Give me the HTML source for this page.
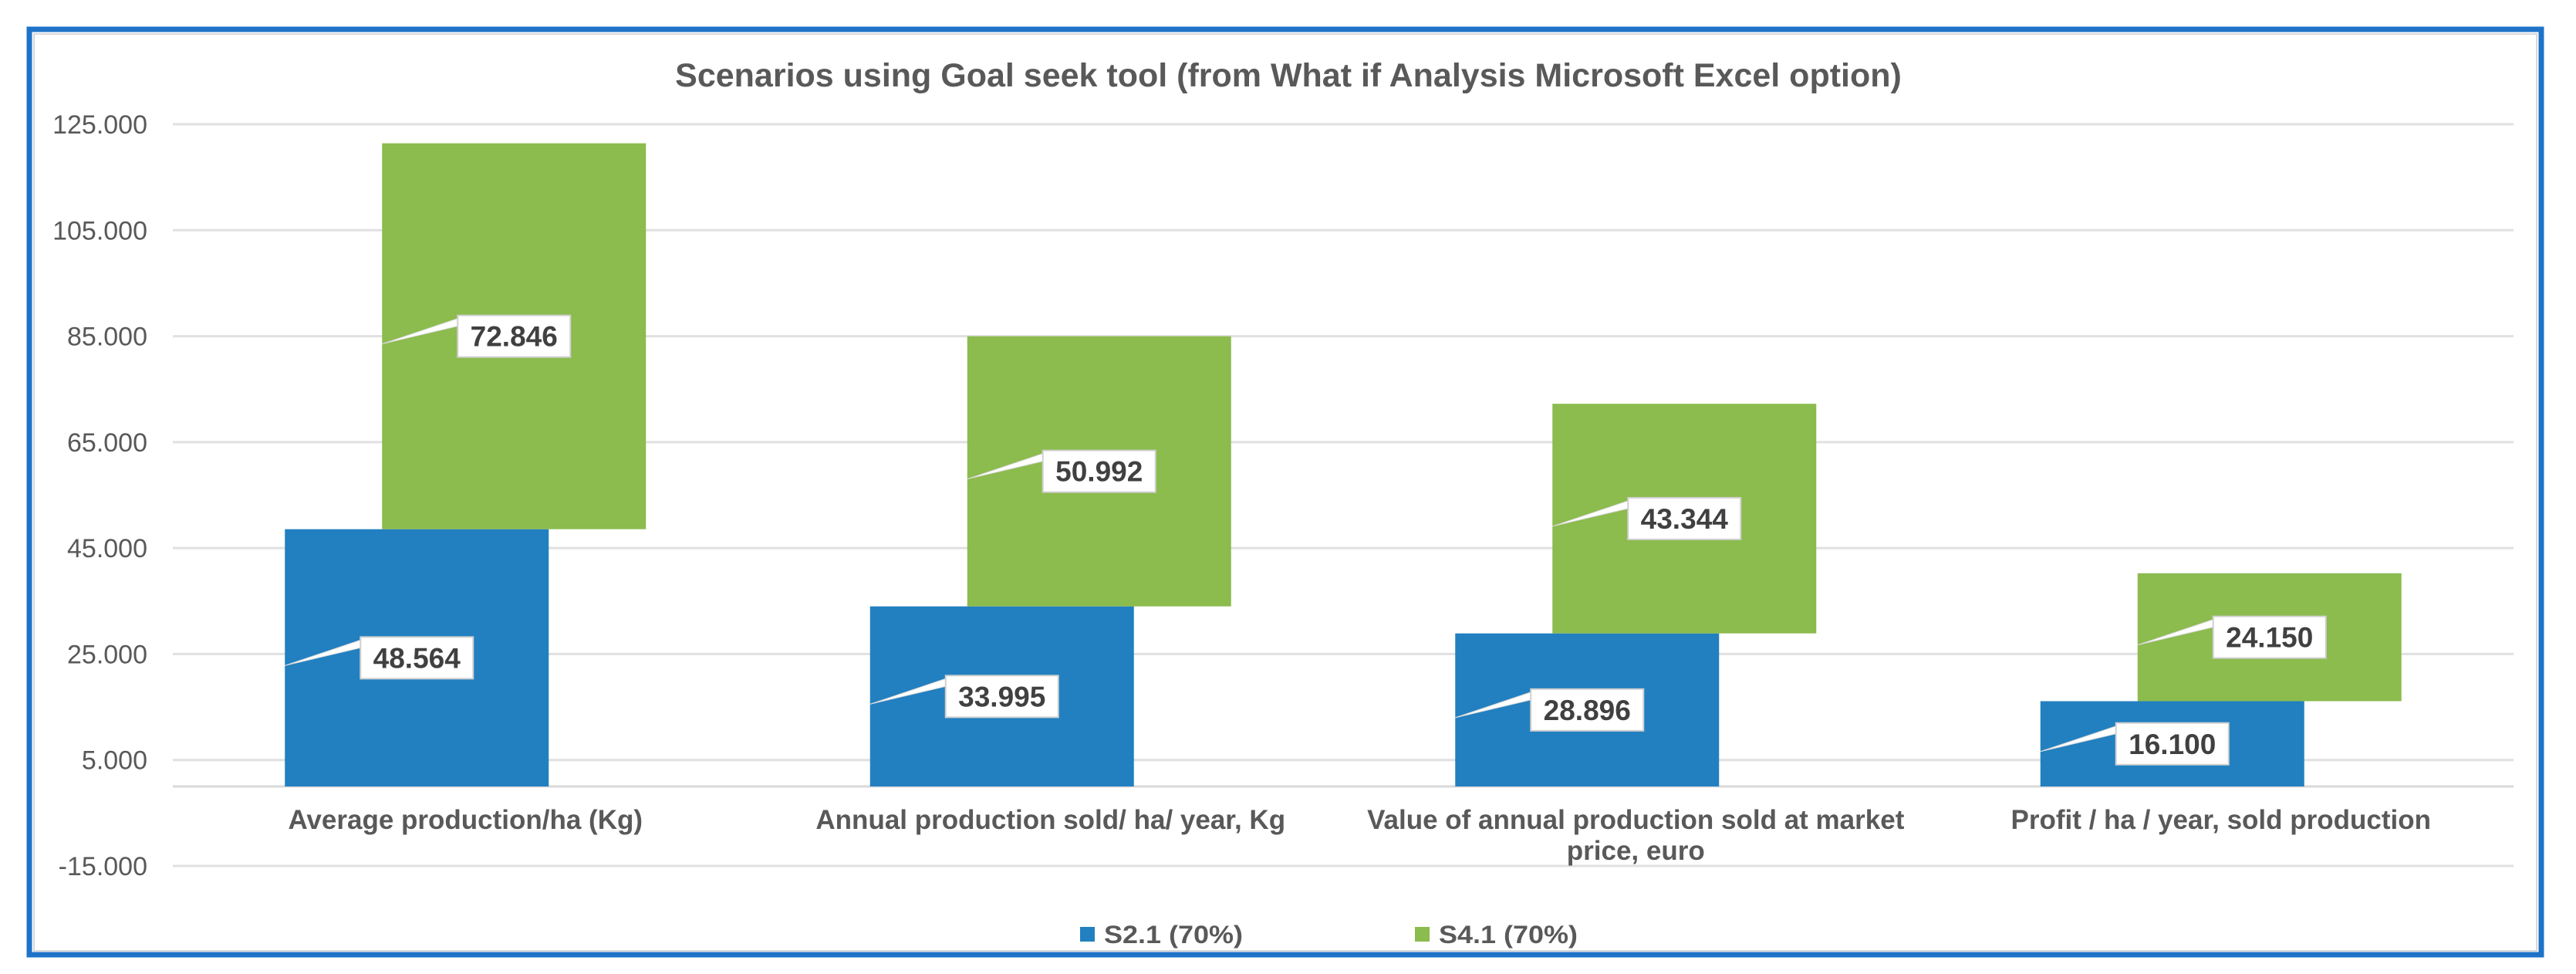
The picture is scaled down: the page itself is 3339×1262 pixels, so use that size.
<!DOCTYPE html>
<html><head><meta charset="utf-8"><style>
html,body{margin:0;padding:0;background:#fff;}
svg{display:block;font-family:"Liberation Sans",sans-serif;}
</style></head><body>
<svg id="chart" width="3339" height="1262" viewBox="0 0 3339 1262">
<rect x="38" y="38" width="3256" height="1199" fill="#fff" stroke="#1e73c8" stroke-width="7"/>
<rect x="44" y="44" width="3244" height="1188" fill="none" stroke="#d9d9d9" stroke-width="2"/>
<text x="1670" y="112" text-anchor="middle" font-size="43" font-weight="bold" fill="#595959">Scenarios using Goal seek tool (from What if Analysis Microsoft Excel option)</text>
<g id="grid"></g><g id="bars"></g><g id="labels"></g>
<g>
<rect x="1400" y="1201" width="19" height="19" fill="#2280c0"/>
<text x="1431" y="1222" font-size="32" font-weight="bold" fill="#595959" textLength="180" lengthAdjust="spacingAndGlyphs">S2.1 (70%)</text>
<rect x="1834" y="1201" width="19" height="19" fill="#8cbb4e"/>
<text x="1865" y="1222" font-size="32" font-weight="bold" fill="#595959" textLength="180" lengthAdjust="spacingAndGlyphs">S4.1 (70%)</text>
</g>
</svg>
<script>
const categories = [["Average production/ha (Kg)"],["Annual production sold/ ha/ year, Kg"],["Value of annual production sold at market","price, euro"],["Profit / ha / year, sold production"]];
const s21 = [48.564, 33.995, 28.896, 16.1];
const s41 = [72.846, 50.992, 43.344, 24.15];
const s21Labels = ["48.564","33.995","28.896","16.100"];
const s41Labels = ["72.846","50.992","43.344","24.150"];
const yTicks = [-15, 5, 25, 45, 65, 85, 105, 125];
const yTickLabels = ["-15.000","5.000","25.000","45.000","65.000","85.000","105.000","125.000"];

const NS = "http://www.w3.org/2000/svg";
const X0 = 224, X1 = 3258, Y_TOP = 161, Y_BOT = 1122, VMIN = -15, VMAX = 125;
const y = v => Y_BOT - (v - VMIN) / (VMAX - VMIN) * (Y_BOT - Y_TOP);
const catW = (X1 - X0) / categories.length;
const cx = i => X0 + catW * (i + 0.5);
const BW = 342, OFF = 63;
function mk(tag, attrs, parent){const e=document.createElementNS(NS,tag);for(const k in attrs)e.setAttribute(k,attrs[k]);parent.appendChild(e);return e;}
const grid = document.getElementById('grid'), bars = document.getElementById('bars'), labels = document.getElementById('labels');

yTicks.forEach((t,i)=>{
  const l = mk('line',{x1:X0,x2:X1,y1:y(t),y2:y(t),stroke:'#e0e0e0','stroke-width':3},grid);
  
  
  const tx = mk('text',{x:191,y:y(t)+12,'text-anchor':'end','font-size':34,fill:'#595959'},grid);
  tx.textContent = yTickLabels[i];
  
  
});
const ax = mk('line',{x1:X0,x2:X1,y1:y(0),y2:y(0),stroke:'#d9d9d9','stroke-width':3},grid);



categories.forEach((c,i)=>{
  const t = mk('text',{x:cx(i),y:1074,'text-anchor':'middle','font-size':35,'font-weight':'bold',fill:'#595959'},grid);
  
  
  c.forEach((line,j)=>{const ts=mk('tspan',{x:cx(i),dy:j?40:0},t);ts.textContent=line;});
});

function label(xLeft, xc, yc, txt){
  const g = mk('g',{},labels);
  
  
  const bx = xc - 73, by = yc - 27;
  mk('polygon',{points:`${xLeft},${yc+10} ${bx},${by+4} ${bx},${by+14}`,fill:'#fff',stroke:'#d9d9d9','stroke-width':1},g);
  mk('rect',{x:bx,y:by,width:146,height:54,fill:'#fff',stroke:'#d0d0d0','stroke-width':2},g);
  const t = mk('text',{x:xc,y:yc+13,'text-anchor':'middle','font-size':37,'font-weight':'bold',fill:'#404040'},g);
  t.textContent = txt;
}

categories.forEach((c,i)=>{
  const bxc = cx(i) - OFF, gxc = cx(i) + OFF;
  const b = mk('rect',{x:bxc-BW/2,y:y(s21[i]),width:BW,height:y(0)-y(s21[i]),fill:'#2280c0'},bars);
  
  
  const top = s21[i] + s41[i];
  const g = mk('rect',{x:gxc-BW/2,y:y(top),width:BW,height:y(s21[i])-y(top),fill:'#8cbb4e'},bars);
  
  
  label(bxc-BW/2, bxc, y(s21[i]/2), s21Labels[i]);
  label(gxc-BW/2, gxc, y(s21[i]+s41[i]/2), s41Labels[i]);
});
</script>
</body></html>
